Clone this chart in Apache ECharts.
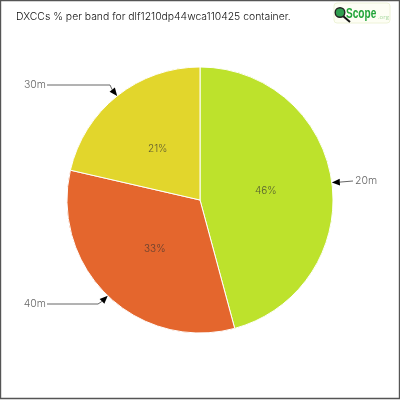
<!DOCTYPE html>
<html><head><meta charset="utf-8">
<style>html,body{margin:0;padding:0;background:#fff}#c{width:400px;height:400px}</style>
<script src="https://cdn.jsdelivr.net/npm/echarts@6/dist/echarts.min.js"></script>
</head><body><div id="c"></div>
<script>
const bands = ['20m','40m','30m'];
const percents = [45.8,32.8,21.4];
const colors = ['#BDE22C','#E4662D','#E2D62C'];
const titleText = 'DXCCs % per band for dlf1210dp44wca110425 container.';
const font = 'Inter';
const cx=200, cy=200, R=133;
const rows = bands.map((b,i)=>({name:b,value:percents[i],itemStyle:{color:colors[i]}}));
const total = percents.reduce((a,b)=>a+b,0);
const callouts={
  '20m':{elbow:[353,181],end:[353,181],dir:[1,-0.05],label:[355,181],align:'left'},
  '40m':{elbow:[98,304],end:[47,304],dir:[-0.72,0.7],label:[46,304],align:'right'},
  '30m':{elbow:[110,85],end:[47,85],dir:[-0.62,-0.78],label:[46,85],align:'right'}
};
const insideOffset={'20m':[-3,0],'40m':[3,-1],'30m':[1,3]};
let acc=0;
const arrows=[];
percents.forEach((p,i)=>{
  const a=(acc+p/2)/total*2*Math.PI; acc+=p;
  const tx=cx+R*Math.sin(a), ty=cy-R*Math.cos(a);
  const c=callouts[bands[i]], d=c.dir;
  const L=8,W=3.4;
  const bx=tx+d[0]*L, by=ty+d[1]*L;
  arrows.push({type:'polyline',silent:true,z:19,shape:{points:[[bx,by],c.elbow,c.end]},style:{fill:null,stroke:'#666',lineWidth:1}});
  arrows.push({type:'polygon',silent:true,z:20,shape:{points:[[tx,ty],[bx-d[1]*W,by+d[0]*W],[bx+d[1]*W,by-d[0]*W]]},style:{fill:'#000'}});
});
const chart=echarts.init(document.getElementById('c'),null,{renderer:'canvas'});
chart.setOption({
  animation:false,
  backgroundColor:'#fff',
  title:{text:titleText,left:16,top:12,padding:0,textStyle:{fontFamily:font,fontSize:10.4,fontWeight:300,color:'#111'}},
  graphic:[
    {type:'rect',silent:true,z:30,shape:{x:0.5,y:0.5,width:399,height:398},style:{fill:null,stroke:'#555',lineWidth:1.4}},
    ...arrows,
    {type:'rect',silent:true,z:5,shape:{x:334,y:3,width:56,height:20,r:3},style:{fill:'#FDFEF4',stroke:'#EEF3D8',lineWidth:1}},
    {type:'line',silent:true,z:6,shape:{x1:343,y1:16,x2:350,y2:22},style:{stroke:'#111',lineWidth:2}},
    {type:'circle',silent:true,z:6,shape:{cx:340,cy:12.5,r:4.8},style:{fill:'#2F9E4F',stroke:'#222',lineWidth:1.4}},
    {type:'text',silent:true,z:6,x:346,y:14,scaleX:0.72,style:{text:'Scope',verticalAlign:'middle',fill:'#22A53A',font:'bold 14px "Liberation Sans"'}},
    {type:'text',silent:true,z:6,style:{text:'.org',x:378,y:17,verticalAlign:'middle',fill:'#A8D8A0',font:'6px "Open Sans"'}}
  ],
  series:[
    {type:'pie',center:[cx,cy],radius:[0,R],startAngle:90,clockwise:true,silent:true,z:2,
     data:rows,
     itemStyle:{borderColor:'#fff',borderWidth:1},
     label:{show:true,position:'inside',formatter:p=>Math.round(p.value)+'%',fontFamily:font,fontWeight:300,fontSize:10,color:'rgba(50,50,50,0.75)'},
     labelLine:{show:false},
     labelLayout:function(p){const o=insideOffset[bands[p.dataIndex]];return {dx:o[0],dy:o[1]};}},
    {type:'pie',center:[cx,cy],radius:[0,R],startAngle:90,clockwise:true,silent:true,z:1,
     data:rows,
     label:{show:true,position:'outside',overflow:'none',formatter:'{b}',fontFamily:font,fontWeight:300,fontSize:10.5,color:'#666'},
     labelLine:{show:false},
     labelLayout:function(p){
       const c=callouts[bands[p.dataIndex]];
       return {x:c.label[0],y:c.label[1],align:c.align,verticalAlign:'middle'};
     }}
  ]
});
</script></body></html>
